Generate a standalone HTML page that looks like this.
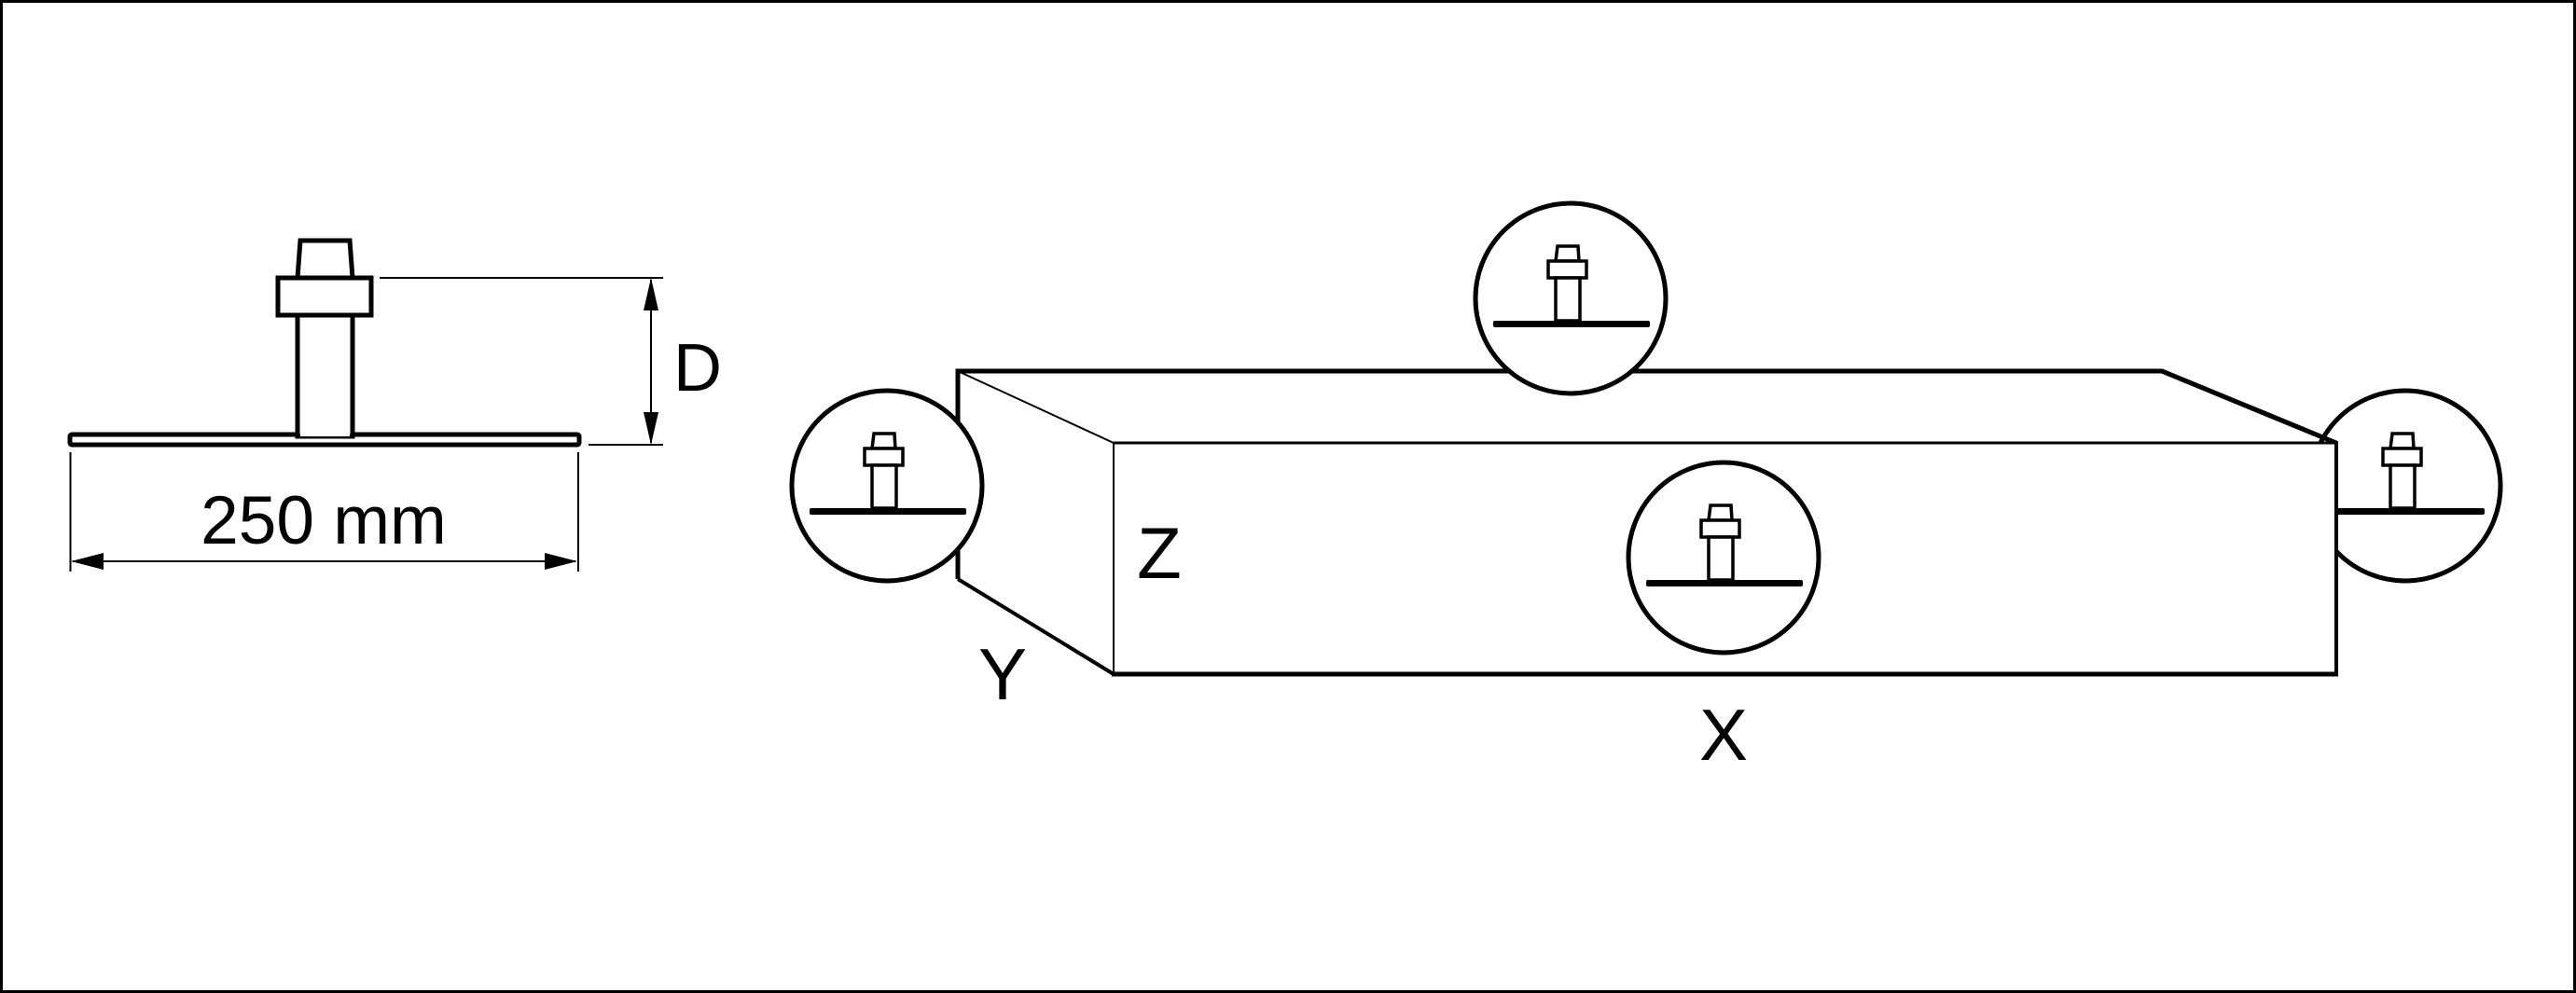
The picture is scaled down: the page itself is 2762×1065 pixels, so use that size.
<!DOCTYPE html>
<html><head><style>html,body{margin:0;padding:0;background:#fff}svg{display:block}</style></head>
<body>
<svg width="2762" height="1065" viewBox="0 0 2762 1065" xmlns="http://www.w3.org/2000/svg">
<defs>
<g id="icon">
  <path d="M-14,-56 L8,-56 L9,-40 L-16,-40 Z" fill="#fff" stroke="#000" stroke-width="3.5"/>
  <rect x="-24" y="-40" width="41" height="18" fill="#fff" stroke="#000" stroke-width="3.5"/>
  <rect x="-16" y="-22" width="26" height="46" fill="#fff" stroke="#000" stroke-width="3.5"/>
  <rect x="-83" y="24" width="168" height="7" rx="2" fill="#000"/>
</g>
</defs>
<rect x="1.5" y="1.5" width="2759" height="1062" fill="#fff" stroke="#000" stroke-width="3"/>

<!-- left anchor -->
<rect x="75" y="466" width="546" height="11" rx="2" fill="#fff" stroke="#000" stroke-width="5"/>
<rect x="319" y="338" width="59" height="130" fill="#fff" stroke="#000" stroke-width="5"/>
<line x1="322" y1="466" x2="375" y2="466" stroke="#fff" stroke-width="4"/>
<path d="M322,258 L375,258 L378,298 L319,298 Z" fill="#fff" stroke="#000" stroke-width="5"/>
<rect x="298" y="298" width="100" height="40" fill="#fff" stroke="#000" stroke-width="5"/>

<!-- D dimension -->
<line x1="407" y1="298" x2="711" y2="298" stroke="#000" stroke-width="2"/>
<line x1="631" y1="477" x2="711" y2="477" stroke="#000" stroke-width="2"/>
<line x1="698" y1="300" x2="698" y2="475" stroke="#000" stroke-width="2"/>
<path d="M698,298 L690,333 L706,333 Z" fill="#000"/>
<path d="M698,477 L690,442 L706,442 Z" fill="#000"/>
<text x="722" y="419" font-family="Liberation Sans, sans-serif" font-size="72">D</text>

<!-- 250 mm dimension -->
<line x1="75.5" y1="485" x2="75.5" y2="613" stroke="#000" stroke-width="2"/>
<line x1="620" y1="485" x2="620" y2="613" stroke="#000" stroke-width="2"/>
<line x1="78" y1="602" x2="617" y2="602" stroke="#000" stroke-width="2"/>
<path d="M76,602 L111,593 L111,611 Z" fill="#000"/>
<path d="M619,602 L584,593 L584,611 Z" fill="#000"/>
<text x="347" y="583" text-anchor="middle" font-family="Liberation Sans, sans-serif" font-size="73">250 mm</text>

<!-- box back lines -->
<polyline points="1027,621 1027,398 2318,398 2505,475" fill="none" stroke="#000" stroke-width="5"/>
<line x1="1027" y1="621" x2="1194" y2="723" stroke="#000" stroke-width="4"/>
<line x1="1027" y1="398" x2="1194" y2="475" stroke="#000" stroke-width="2"/>

<!-- top, left, right circles -->
<circle cx="1684" cy="320" r="102" fill="#fff" stroke="#000" stroke-width="5"/>
<use href="#icon" x="1684" y="320"/>
<circle cx="951" cy="521" r="102" fill="#fff" stroke="#000" stroke-width="5"/>
<use href="#icon" x="951" y="521"/>
<circle cx="2579" cy="521" r="102" fill="#fff" stroke="#000" stroke-width="5"/>
<use href="#icon" x="2579" y="521"/>
<line x1="2318" y1="398" x2="2505" y2="475" stroke="#000" stroke-width="5"/>

<!-- front face -->
<rect x="1194" y="475" width="1311" height="248" fill="#fff" stroke="none"/>
<line x1="1194" y1="475" x2="2505" y2="475" stroke="#000" stroke-width="3"/>
<line x1="1194" y1="475" x2="1194" y2="723" stroke="#000" stroke-width="2"/>
<line x1="1192" y1="723" x2="2507" y2="723" stroke="#000" stroke-width="5"/>
<line x1="2505" y1="473" x2="2505" y2="725" stroke="#000" stroke-width="4"/>

<!-- center circle -->
<circle cx="1848" cy="598" r="102" fill="#fff" stroke="#000" stroke-width="5"/>
<use href="#icon" x="1848" y="598"/>

<text x="1243" y="620" text-anchor="middle" font-family="Liberation Sans, sans-serif" font-size="78">Z</text>
<text x="1075" y="750" text-anchor="middle" font-family="Liberation Sans, sans-serif" font-size="78">Y</text>
<text x="1848" y="815" text-anchor="middle" font-family="Liberation Sans, sans-serif" font-size="78">X</text>
</svg>
</body></html>
